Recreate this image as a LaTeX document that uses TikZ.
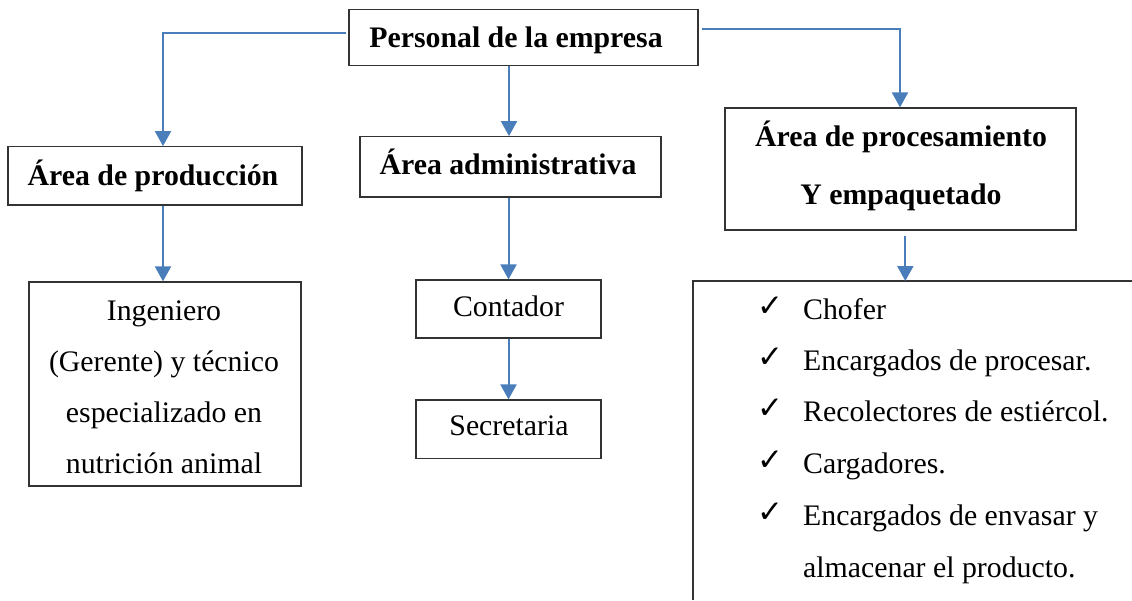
\documentclass[tikz,border=0pt]{standalone}
\usepackage{fontspec}
\setmainfont{Liberation Serif}
\newfontfamily\symfont{DejaVu Sans}
\usetikzlibrary{arrows.meta}
\definecolor{connblue}{HTML}{4A7EBB}
\definecolor{boxgray}{HTML}{333333}
\tikzset{
  box/.style={draw=boxgray, line width=1.2pt, inner sep=0pt, rectangle},
  conn/.style={draw=connblue, line width=2pt, -{Triangle[width=16pt,length=15pt,fill=connblue]}},
  hd/.style={font=\bfseries\fontsize{29.8}{34}\selectfont, inner sep=0pt, anchor=base},
  tx/.style={font=\fontsize{29.8}{34}\selectfont, inner sep=0pt, anchor=base},
  lx/.style={font=\fontsize{29.8}{34}\selectfont, inner sep=0pt, anchor=base west},
  ck/.style={font=\symfont\bfseries\fontsize{31}{34}\selectfont, inner sep=0pt, anchor=base west},
}
\begin{document}
\begin{tikzpicture}[x=1pt,y=-1pt]
\useasboundingbox (0,0) rectangle (1132,600);
% boxes
\node[box, minimum width=349pt, minimum height=56.4pt] (top) at (523.5,37.5) {};
\node[box, minimum width=294pt, minimum height=58.3pt] (prod) at (155,175.85) {};
\node[box, minimum width=301pt, minimum height=60.3pt] (adm) at (510.5,166.85) {};
\node[box, minimum width=351pt, minimum height=122pt] (proc) at (900.5,169) {};
\node[box, minimum width=272pt, minimum height=204pt] (ing) at (165,384) {};
\node[box, minimum width=185pt, minimum height=58pt] (cont) at (508.5,309) {};
\node[box, minimum width=185pt, minimum height=58.7pt] (sec) at (508.5,429.35) {};
% open list frame
\coordinate (lbl) at (693,600);
\coordinate (ltl) at (693,281);
\coordinate (ltr) at (1132,281);
\coordinate (lt) at (905.3,281);
\draw[draw=boxgray, line width=1.2pt] (lbl) -- (ltl) -- (ltr);
% texts
\node[hd] (ttop) at (516,47) {Personal de la empresa};
\node[hd] (tprod) at (153,185) {Área de producción};
\node[hd] (tadm) at (508,174) {Área administrativa};
\node[hd] (tproc1) at (901,146) {Área de procesamiento};
\node[hd] (tproc2) at (901,204) {Y empaquetado};
\node[tx] (ting1) at (164,320) {Ingeniero};
\node[tx] (ting2) at (164,371.7) {(Gerente) y técnico};
\node[tx] (ting3) at (164,422.7) {especializado en};
\node[tx] (ting4) at (164,473) {nutrición animal};
\node[tx] (tcont) at (508.5,316) {Contador};
\node[tx] (tsec) at (509,435.7) {Secretaria};
% list
\node[ck] (c1) at (757,316) {✓};
\node[ck] (c2) at (757,367) {✓};
\node[ck] (c3) at (757,418.7) {✓};
\node[ck] (c4) at (757,470) {✓};
\node[ck] (c5) at (757,522) {✓};
\node[lx] (l1) at (803,319) {Chofer};
\node[lx] (l2) at (803,370) {Encargados de procesar.};
\node[lx] (l3) at (803,421.7) {Recolectores de estiércol.};
\node[lx] (l4) at (803,473) {Cargadores.};
\node[lx] (l5) at (803,525) {Encargados de envasar y};
\node[lx] (l6) at (803,577) {almacenar el producto.};
% connectors
\draw[conn] ([xshift=-2pt,yshift=4.8pt]top.west) -| ([xshift=8pt]prod.north);
\draw[conn] ([xshift=-1.5pt]adm.north |- top.south) -- ([xshift=-1.5pt]adm.north);
\draw[conn] ([xshift=3pt,yshift=8.5pt]top.east) -| ([xshift=-0.5pt]proc.north);
\draw[conn] ([xshift=8pt]prod.south) -- ([xshift=-2pt]ing.north);
\draw[conn] (cont.north |- adm.south) -- (cont.north);
\draw[conn] (cont.south) -- (sec.north);
\draw[conn] ([xshift=4.8pt,yshift=-5pt]proc.south) -- (lt);
\end{tikzpicture}
\end{document}
